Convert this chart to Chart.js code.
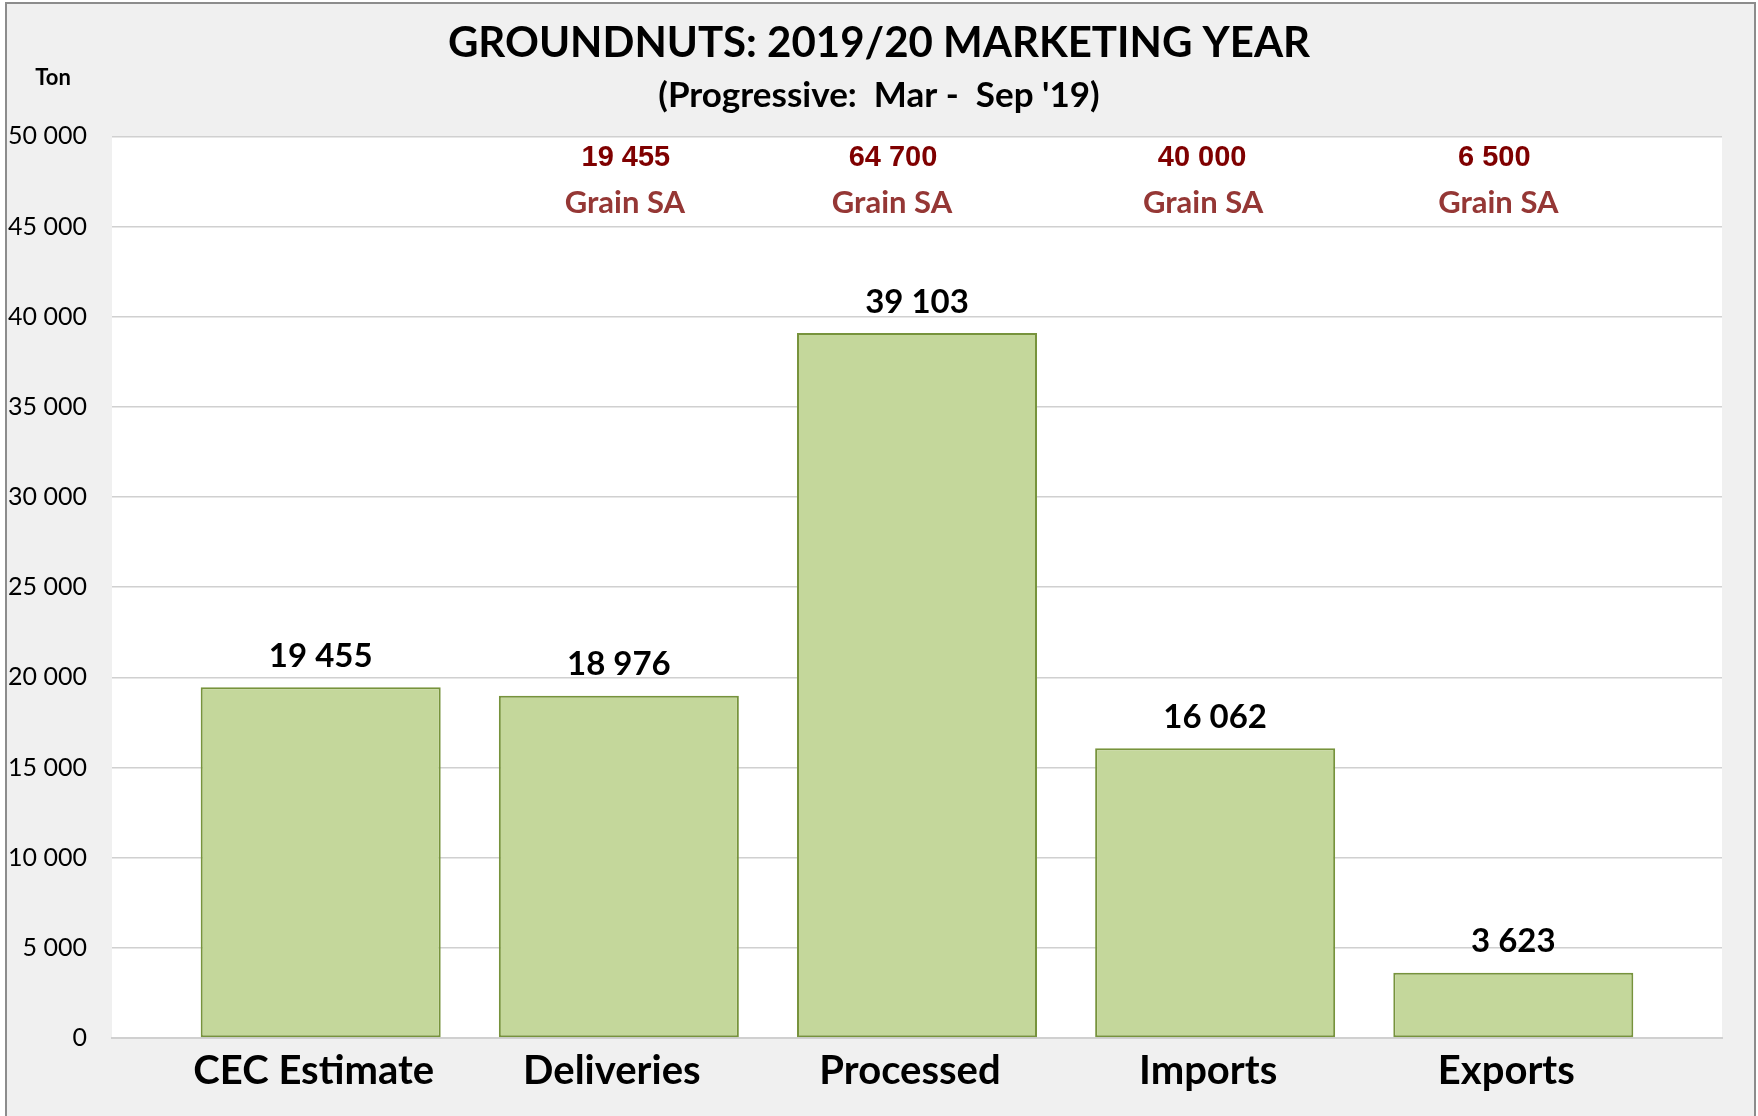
<!DOCTYPE html>
<html>
<head>
<meta charset="utf-8">
<script src="https://cdn.jsdelivr.net/npm/chart.js@4/dist/chart.umd.min.js"></script>
<style>
  html, body { margin: 0; padding: 0; background: #ffffff; }
  canvas { display: block; }
</style>
</head>
<body>
<canvas id="c" width="1758" height="1116"></canvas>
<script>
// ---- data ----
const categories = ['CEC Estimate', 'Deliveries', 'Processed', 'Imports', 'Exports'];
const values = [19455, 18976, 39103, 16062, 3623];
const refValues = [null, 19455, 64700, 40000, 6500];
const refSources = [null, 'Grain SA', 'Grain SA', 'Grain SA', 'Grain SA'];
const yTicks = [0, 5000, 10000, 15000, 20000, 25000, 30000, 35000, 40000, 45000, 50000];
const titleText = 'GROUNDNUTS: 2019/20 MARKETING YEAR';
const subtitleText = "(Progressive:  Mar -  Sep '19)";
const unitText = 'Ton';

function fmt(n) {
  return String(n).replace(/\B(?=(\d{3})+(?!\d))/g, ' ');
}

const FONT = 'Lato, "Open Sans", "DejaVu Sans", sans-serif';

const framePlugin = {
  id: 'frame',
  beforeDraw(chart) {
    const ctx = chart.ctx, a = chart.chartArea;
    ctx.save();
    ctx.fillStyle = '#ffffff';
    ctx.fillRect(0, 0, chart.width, chart.height);
    ctx.fillStyle = '#f0f0f0';
    ctx.fillRect(6, 3, chart.width - 9, chart.height);
    ctx.strokeStyle = '#8c8c8c';
    ctx.lineWidth = 2;
    ctx.beginPath();
    ctx.moveTo(6, chart.height + 2);
    ctx.lineTo(6, 3);
    ctx.lineTo(chart.width - 3, 3);
    ctx.lineTo(chart.width - 3, chart.height + 2);
    ctx.stroke();
    ctx.fillStyle = '#ffffff';
    ctx.fillRect(a.left, a.top, a.right - a.left, a.bottom - a.top);
    ctx.restore();
  }
};

const labelsPlugin = {
  id: 'labels',
  afterDatasetsDraw(chart) {
    const ctx = chart.ctx, a = chart.chartArea;
    const meta = chart.getDatasetMeta(0);
    const xs = chart.scales.x;
    ctx.save();
    ctx.textAlign = 'center';
    ctx.textBaseline = 'middle';
    // value labels above bars
    ctx.fillStyle = '#000000';
    ctx.font = 'bold 33px ' + FONT;
    meta.data.forEach((bar, i) => {
      ctx.fillText(fmt(values[i]), bar.x, bar.y - 31);
    });
    // reference annotations
    const numOff = [0, 7, -24, -13, -19];
    const srcOff = [0, 6, -25, -12, -15];
    categories.forEach((c, i) => {
      if (refValues[i] == null) return;
      const cx = xs.getPixelForValue(i);
      ctx.fillStyle = '#7f0000';
      ctx.font = 'bold 29px "Liberation Sans", Arial, sans-serif';
      ctx.fillText(fmt(refValues[i]), cx + numOff[i], a.top + 22);
      ctx.fillStyle = '#953735';
      ctx.font = 'bold 31px ' + FONT;
      ctx.fillText(refSources[i], cx + srcOff[i], a.top + 67);
    });
    // unit label
    ctx.fillStyle = '#000000';
    ctx.font = 'bold 22px ' + FONT;
    ctx.fillText(unitText, 53, 78);
    ctx.restore();
  }
};

new Chart(document.getElementById('c'), {
  type: 'bar',
  data: {
    datasets: [{
      data: values.map((v, i) => ({ x: i, y: v })),
      backgroundColor: '#c4d79b',
      borderColor: '#77933c',
      borderWidth: 2,
      borderSkipped: false,
      categoryPercentage: 1,
      barPercentage: 0.805
    }]
  },
  options: {
    responsive: false,
    animation: false,
    layout: { padding: { left: 0, right: 0, top: 0, bottom: 0 } },
    plugins: {
      legend: { display: false },
      tooltip: { enabled: false },
      title: {
        display: true,
        text: titleText,
        color: '#000000',
        font: { family: FONT, size: 42, weight: 'bold' },
        padding: { top: 18, bottom: 6 }
      },
      subtitle: {
        display: true,
        text: subtitleText,
        color: '#000000',
        font: { family: FONT, size: 35, weight: 'bold' },
        padding: { top: 0, bottom: 20 }
      }
    },
    scales: {
      x: {
        type: 'linear',
        min: -0.7,
        max: 4.7,
        offset: false,
        bounds: 'data',
        afterBuildTicks: s => { s.ticks = categories.map((_, i) => ({ value: i })); },
        afterFit: s => { s.height = 78; },
        grid: { display: false, drawTicks: false },
        border: { display: true, color: '#d0d0d0', width: 2 },
        ticks: {
          autoSkip: false,
          maxRotation: 0,
          padding: 9,
          labelOffset: -7,
          color: '#000000',
          font: { family: FONT, size: 40, weight: 'bold' },
          callback: v => categories[v] ?? ''
        }
      },
      y: {
        min: 0,
        max: 50000,
        afterBuildTicks: s => { s.ticks = yTicks.map(v => ({ value: v })); },
        afterFit: s => { s.width = 112; },
        grid: { color: '#d0d0d0', lineWidth: 1.5, drawTicks: false },
        border: { display: false },
        ticks: {
          padding: 25,
          color: '#000000',
          font: { family: FONT, size: 25 },
          callback: v => fmt(v)
        }
      },
      yRight: {
        position: 'right',
        min: 0,
        max: 50000,
        afterFit: s => { s.width = 36; },
        grid: { display: false, drawTicks: false },
        border: { display: false },
        ticks: { display: false }
      }
    }
  },
  plugins: [framePlugin, labelsPlugin]
});
</script>
</body>
</html>
